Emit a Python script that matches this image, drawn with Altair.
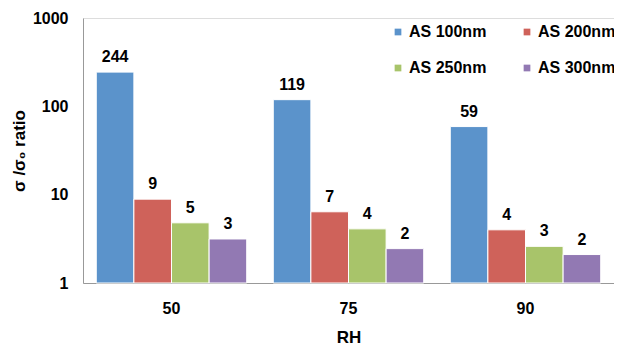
import altair as alt
import pandas as pd

rh = ["50", "75", "90"]
series = ["AS 100nm", "AS 200nm", "AS 250nm", "AS 300nm"]
colors = ["#5B93CB", "#CF625A", "#A8C46A", "#9279B3"]
values = {
    "AS 100nm": [244, 119, 59],
    "AS 200nm": [8.9, 6.4, 4.0],
    "AS 250nm": [4.8, 4.1, 2.6],
    "AS 300nm": [3.15, 2.45, 2.1],
}
labels = {
    "AS 100nm": ["244", "119", "59"],
    "AS 200nm": ["9", "7", "4"],
    "AS 250nm": ["5", "4", "3"],
    "AS 300nm": ["3", "2", "2"],
}

rows = []
for s in series:
    for i, r in enumerate(rh):
        rows.append({"RH": r, "series": s, "value": values[s][i], "label": labels[s][i]})
df = pd.DataFrame(rows)

# legend fills column by column: order so rows read 100/200 then 250/300
legend_order = ["AS 100nm", "AS 250nm", "AS 200nm", "AS 300nm"]
legend_colors = [colors[series.index(s)] for s in legend_order]

FONT = "Liberation Sans"

x = alt.X("RH:N", sort=rh, title="RH",
          scale=alt.Scale(paddingInner=0.15, paddingOuter=0.075),
          axis=alt.Axis(labelAngle=0, labelFont=FONT, labelFontSize=16, labelFontWeight="bold",
                        labelColor="black", ticks=False, labelPadding=17,
                        titleFont=FONT, titleFontSize=17, titleFontWeight="bold",
                        titleColor="black", titlePadding=13, domainColor="#999999"))
xo = alt.XOffset("series:N", sort=series)
y = alt.Y("value:Q", title="σ /σ₀ ratio",
          scale=alt.Scale(type="log", domain=[1, 1000]),
          axis=alt.Axis(values=[1, 10, 100, 1000], format="d", grid=False, ticks=False,
                        labelFont=FONT, labelFontSize=16, labelFontWeight="bold",
                        labelColor="black", labelPadding=15,
                        titleFont=FONT, titleFontSize=17, titleFontWeight="bold",
                        titleColor="black", titlePadding=4, domainColor="#999999"))

bars = alt.Chart(df).mark_bar(stroke="white", strokeWidth=1).encode(
    x=x, xOffset=xo, y=y, y2=alt.datum(1),
    color=alt.Color("series:N", title=None,
                    scale=alt.Scale(domain=legend_order, range=legend_colors),
                    legend=alt.Legend(orient="none", legendX=307, legendY=6, columns=2,
                                      symbolType="square", symbolSize=45, symbolStrokeWidth=0,
                                      labelFont=FONT, labelFontSize=16, labelFontWeight="bold",
                                      labelColor="black", labelOffset=3,
                                      columnPadding=32, rowPadding=20)),
)

text = alt.Chart(df).mark_text(font=FONT, fontSize=16, fontWeight="bold", color="black",
                               baseline="bottom", dy=-7).encode(
    x=x, xOffset=xo, y=y, text="label:N"
)

chart = (bars + text).properties(
    width=606, height=337,
    autosize=alt.AutoSizeParams(type="fit", contains="padding"),
    padding={"left": 2, "top": 2, "right": 0, "bottom": 0},
).configure_view(stroke="#333333", strokeWidth=1).configure(background="white")

chart.save("out.html", embed_options={"renderer": "svg", "actions": False})
